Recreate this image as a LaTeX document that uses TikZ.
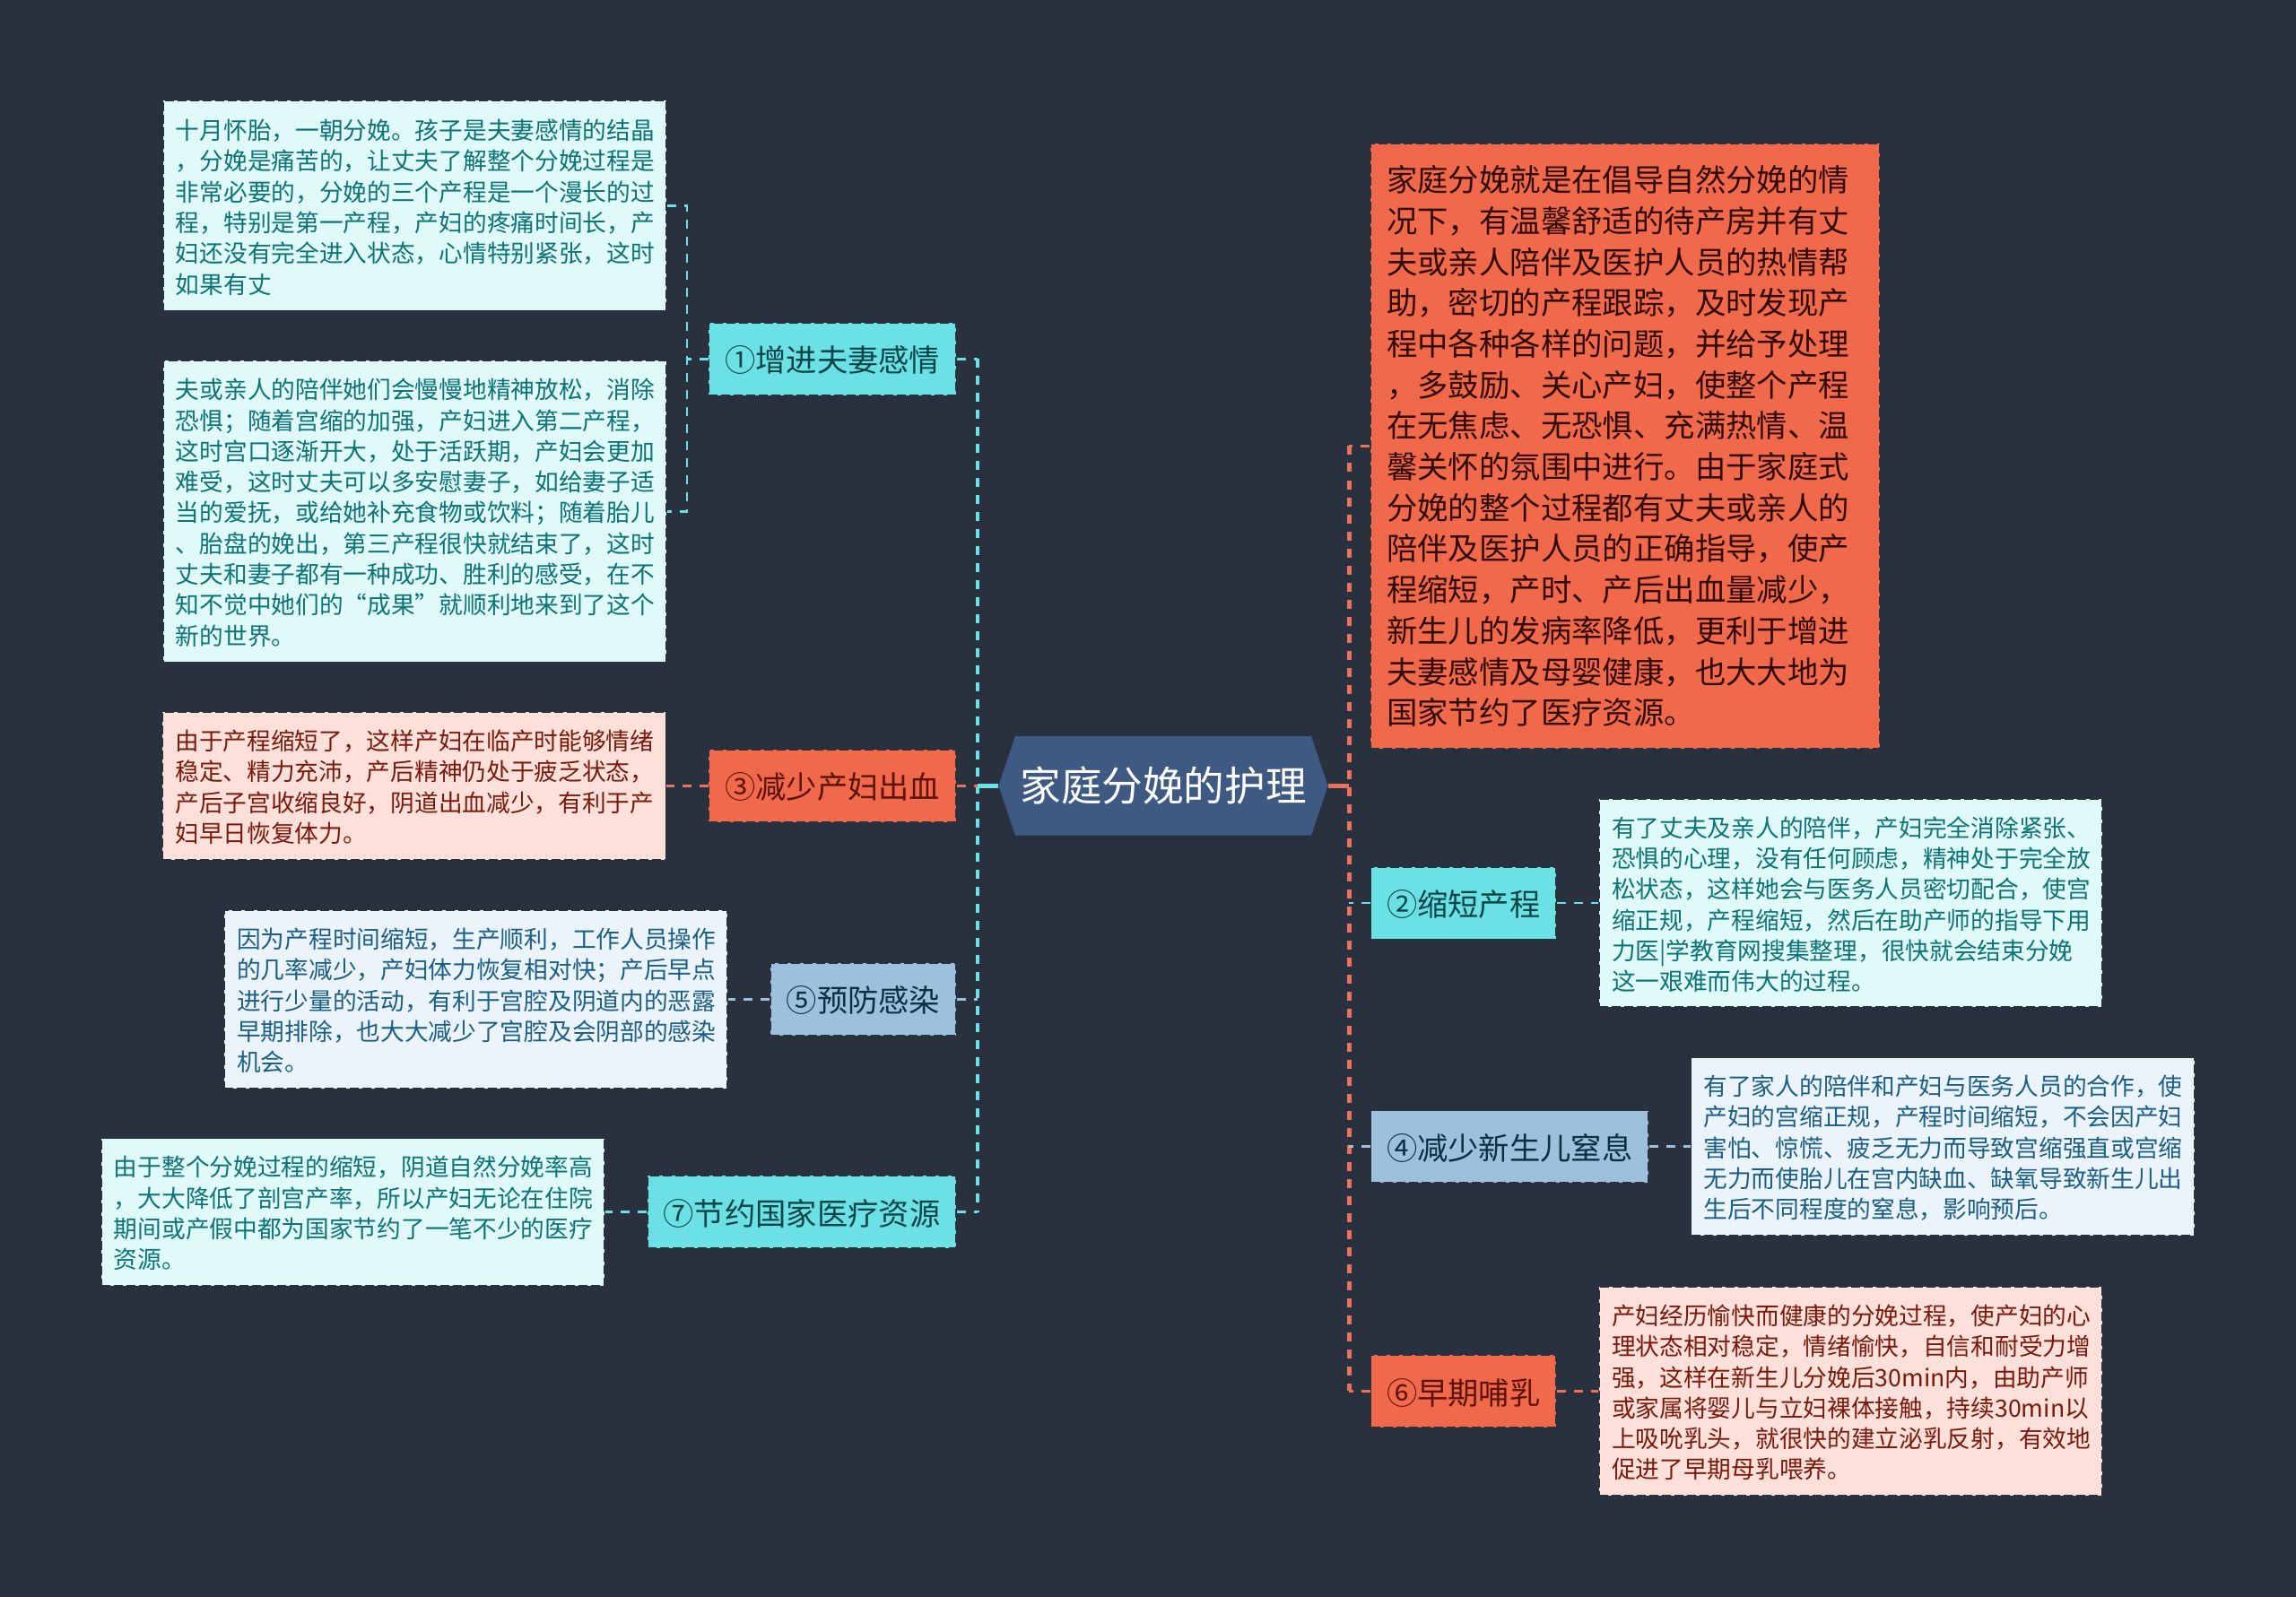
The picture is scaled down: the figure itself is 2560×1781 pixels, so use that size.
\documentclass[tikz,border=0pt]{standalone}
\usepackage{fontspec}
\setmainfont{Noto Sans CJK SC}
\usetikzlibrary{positioning,shapes.symbols}
\definecolor{bgdark}{HTML}{29313F}
\definecolor{rootblue}{HTML}{3E5A82}
\definecolor{cyanfill}{HTML}{6BE1E6}
\definecolor{orangefill}{HTML}{F0694B}
\definecolor{orangeline}{HTML}{E8735A}
\definecolor{bluefill}{HTML}{9DC1DC}
\definecolor{cyanpale}{HTML}{E0FAFA}
\definecolor{orangepale}{HTML}{FEE0DA}
\definecolor{bluepale}{HTML}{ECF4FB}
\definecolor{cyantext}{HTML}{0D7377}
\definecolor{orangetext}{HTML}{7A1A0C}
\definecolor{bluetext}{HTML}{1B5E86}
\tikzset{
  rootnode/.style={shape=signal, signal to=east and west, signal pointer angle=143,
    fill=rootblue, text=white, inner sep=0pt, minimum width=183.5pt, minimum height=55.3pt,
    font=\fontsize{22.8pt}{27pt}\selectfont},
  branch/.style={draw=bgdark, dashed, dash pattern=on 5pt off 2pt, line width=0.8pt,
    inner sep=0pt, minimum height=40.3pt, text height=15.6pt, text depth=1pt,
    font=\fontsize{17.15pt}{20pt}\selectfont},
  textbox/.style={draw=bgdark, dashed, dash pattern=on 5pt off 2pt, line width=0.8pt,
    inner sep=0pt, align=left},
  leaf/.style={textbox, text width=266.5pt, minimum width=280.5pt,
    execute at end node={\par\kern-1.6pt},
    font=\fontsize{13.35pt}{17.15pt}\selectfont},
  bigleaf/.style={textbox, text width=266pt, minimum width=284pt, minimum height=337.5pt,
    font=\fontsize{17.2pt}{22.85pt}\selectfont},
  cyanbranch/.style={branch, fill=cyanfill, text=cyantext!60!black},
  orangebranch/.style={branch, fill=orangefill, text=orangetext!75!black},
  bluebranch/.style={branch, fill=bluefill, text=bluetext!50!black},
  cyanleaf/.style={leaf, fill=cyanpale, text=cyantext},
  orangeleaf/.style={leaf, fill=orangepale, text=orangetext},
  blueleaf/.style={leaf, fill=bluepale, text=bluetext},
  trunk/.style={line width=2.3pt, dash pattern=on 5pt off 4.5pt},
  stub/.style={line width=1.4pt, dash pattern=on 5pt off 4.5pt},
}

\begin{document}
\begin{tikzpicture}[x=0.5pt, y=0.5pt, node distance=20pt]
      \path[use as bounding box, fill=bgdark] (0,0) rectangle (2560,-1781);

      % Nodes
      \node[rootnode] (root) at (1297,-876.3) {家庭分娩的护理};

      \node[cyanbranch, minimum width=137.75pt] (b1) [left of=root, xshift=-164.4pt, yshift=238pt] {①增进夫妻感情};
      \node[orangebranch, minimum width=137.75pt] (b3) [left of=root, xshift=-164.4pt] {③减少产妇出血};
      \node[bluebranch, minimum width=103.5pt] (b5) [left of=root, xshift=-147.25pt, yshift=-119pt] {⑤预防感染};
      \node[cyanbranch, minimum width=172pt] (b7) [left of=root, xshift=-181.5pt, yshift=-237.65pt] {⑦节约国家医疗资源};

      \node[cyanbranch, minimum width=103.25pt] (b2) [right of=root, xshift=147.4pt, yshift=-65.35pt] {②缩短产程};
      \node[bluebranch, minimum width=154.65pt] (b4) [right of=root, xshift=173.1pt, yshift=-201.25pt] {④减少新生儿窒息};
      \node[orangebranch, minimum width=103.25pt] (b6) [right of=root, xshift=147.4pt, yshift=-337.55pt] {⑥早期哺乳};

      \node[bigleaf, fill=orangefill, text=orangetext!40!black] (intro) [right of=root, xshift=237.5pt, yshift=189.4pt] {
        家庭分娩就是在倡导自然分娩的情\\
        况下，有温馨舒适的待产房并有丈\\
        夫或亲人陪伴及医护人员的热情帮\\
        助，密切的产程跟踪，及时发现产\\
        程中各种各样的问题，并给予处理\\
        ，多鼓励、关心产妇，使整个产程\\
        在无焦虑、无恐惧、充满热情、温\\
        馨关怀的氛围中进行。由于家庭式\\
        分娩的整个过程都有丈夫或亲人的\\
        陪伴及医护人员的正确指导，使产\\
        程缩短，产时、产后出血量减少，\\
        新生儿的发病率降低，更利于增进\\
        夫妻感情及母婴健康，也大大地为\\
        国家节约了医疗资源。};

      \node[cyanleaf, minimum height=117pt] (t1a) [left of=b1, xshift=-212.9pt, yshift=85.4pt] {
        十月怀胎，一朝分娩。孩子是夫妻感情的结晶\\
        ，分娩是痛苦的，让丈夫了解整个分娩过程是\\
        非常必要的，分娩的三个产程是一个漫长的过\\
        程，特别是第一产程，产妇的疼痛时间长，产\\
        妇还没有完全进入状态，心情特别紧张，这时\\
        如果有丈};
      \node[cyanleaf, minimum height=168.2pt] (t1b) [left of=b1, xshift=-212.9pt, yshift=-84.95pt] {
        夫或亲人的陪伴她们会慢慢地精神放松，消除\\
        恐惧；随着宫缩的加强，产妇进入第二产程，\\
        这时宫口逐渐开大，处于活跃期，产妇会更加\\
        难受，这时丈夫可以多安慰妻子，如给妻子适\\
        当的爱抚，或给她补充食物或饮料；随着胎儿\\
        、胎盘的娩出，第三产程很快就结束了，这时\\
        丈夫和妻子都有一种成功、胜利的感受，在不\\
        知不觉中她们的“成果”就顺利地来到了这个\\
        新的世界。};
      \node[orangeleaf, minimum height=82.35pt] (t3) [left of=b3, xshift=-213.2pt] {
        由于产程缩短了，这样产妇在临产时能够情绪\\
        稳定、精力充沛，产后精神仍处于疲乏状态，\\
        产后子宫收缩良好，阴道出血减少，有利于产\\
        妇早日恢复体力。};
      \node[blueleaf, minimum height=99.5pt] (t5) [left of=b5, xshift=-195.9pt] {
        因为产程时间缩短，生产顺利，工作人员操作\\
        的几率减少，产妇体力恢复相对快；产后早点\\
        进行少量的活动，有利于宫腔及阴道内的恶露\\
        早期排除，也大大减少了宫腔及会阴部的感染\\
        机会。};
      \node[cyanleaf, minimum height=82pt] (t7) [left of=b7, xshift=-230.3pt] {
        由于整个分娩过程的缩短，阴道自然分娩率高\\
        ，大大降低了剖宫产率，所以产妇无论在住院\\
        期间或产假中都为国家节约了一笔不少的医疗\\
        资源。};
      \node[cyanleaf, minimum height=116.2pt] (t2) [right of=b2, xshift=195.9pt] {
        有了丈夫及亲人的陪伴，产妇完全消除紧张、\\
        恐惧的心理，没有任何顾虑，精神处于完全放\\
        松状态，这样她会与医务人员密切配合，使宫\\
        缩正规，产程缩短，然后在助产师的指导下用\\
        力医|学教育网搜集整理，很快就会结束分娩\\
        这一艰难而伟大的过程。};
      \node[blueleaf, minimum height=99.25pt] (t4) [right of=b4, xshift=221.4pt] {
        有了家人的陪伴和产妇与医务人员的合作，使\\
        产妇的宫缩正规，产程时间缩短，不会因产妇\\
        害怕、惊慌、疲乏无力而导致宫缩强直或宫缩\\
        无力而使胎儿在宫内缺血、缺氧导致新生儿出\\
        生后不同程度的窒息，影响预后。};
      \node[orangeleaf, minimum height=116.2pt] (t6) [right of=b6, xshift=195.9pt] {
        产妇经历愉快而健康的分娩过程，使产妇的心\\
        理状态相对稳定，情绪愉快，自信和耐受力增\\
        强，这样在新生儿分娩后30min内，由助产师\\
        或家属将婴儿与立妇裸体接触，持续30min以\\
        上吸吮乳头，就很快的建立泌乳反射，有效地\\
        促进了早期母乳喂养。};

      % Hubs
      \coordinate (lhub) at (1090,-876.3);
      \coordinate (rhub) at (1504.4,-876.3);
      \coordinate (b1hub) at (766,-400.3);

      % Arrows
      \draw[cyanfill, line width=2.6pt] (root.west) -- (lhub);
      \draw[orangeline, line width=2.6pt] (root.east) -- (rhub);
      \draw[cyanfill, trunk] (lhub |- b1) -- (lhub |- b7);
      \draw[orangeline, trunk] (rhub |- intro) -- (rhub |- b6);

      \draw[cyanfill, stub] (b1) -- (lhub |- b1);
      \draw[orangeline, stub] (b3) -- (lhub |- b3);
      \draw[bluefill, stub] (b5) -- (lhub |- b5);
      \draw[cyanfill, stub] (b7) -- (lhub |- b7);
      \draw[orangeline, stub] (intro.west) -- (rhub |- intro);
      \draw[cyanfill, stub] (b2) -- (rhub |- b2);
      \draw[bluefill, stub] (b4) -- (rhub |- b4);
      \draw[orangeline, stub] (b6) -- (rhub |- b6);

      \draw[cyanfill, stub] (b1.west) -- (b1hub);
      \draw[cyanfill, stub] (t1a.east) -- (t1a.east -| b1hub) -- (t1b.east -| b1hub) -- (t1b.east);
      \draw[orangeline, stub] (b3.west) -- (t3.east);
      \draw[bluefill, stub] (b5.west) -- (t5.east);
      \draw[cyanfill, stub] (b7.west) -- (t7.east);
      \draw[cyanfill, stub] (b2.east) -- (t2.west);
      \draw[bluefill, stub] (b4.east) -- (t4.west);
      \draw[orangeline, stub] (b6.east) -- (t6.west);

  \end{tikzpicture}
\end{document}
